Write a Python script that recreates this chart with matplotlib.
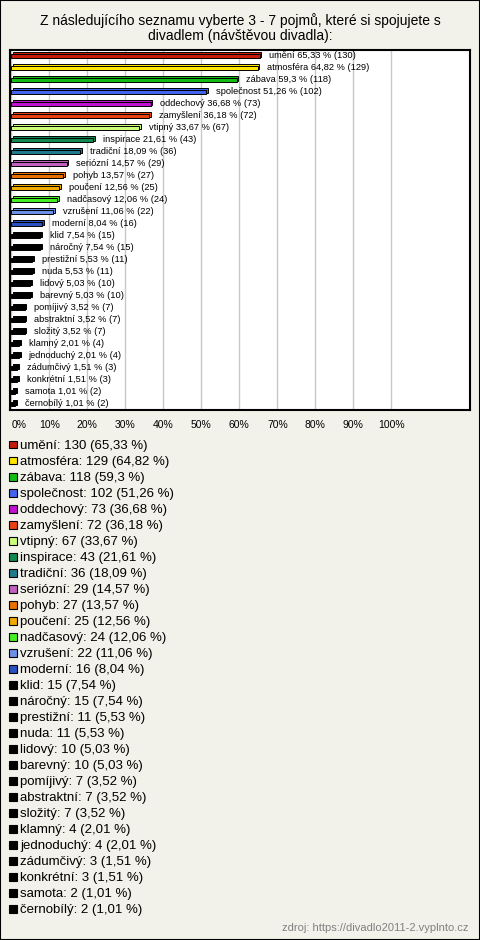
import matplotlib
matplotlib.use('Agg')
import matplotlib.pyplot as plt
from matplotlib.patches import Rectangle

plt.rcParams['font.family'] = ['Liberation Sans', 'DejaVu Sans']

TITLE = 'Z následujícího seznamu vyberte 3 - 7 pojmů, které si spojujete s\ndivadlem (návštěvou divadla):'
SOURCE = 'zdroj: https://divadlo2011-2.vyplnto.cz'

labels = ['umění', 'atmosféra', 'zábava', 'společnost', 'oddechový', 'zamyšlení',
          'vtipný', 'inspirace', 'tradiční', 'seriózní', 'pohyb', 'poučení',
          'nadčasový', 'vzrušení', 'moderní', 'klid', 'náročný', 'prestižní',
          'nuda', 'lidový', 'barevný', 'pomíjivý', 'abstraktní', 'složitý',
          'klamný', 'jednoduchý', 'zádumčivý', 'konkrétní', 'samota', 'černobílý']
counts = [130, 129, 118, 102, 73, 72, 67, 43, 36, 29, 27, 25, 24, 22, 16,
          15, 15, 11, 11, 10, 10, 7, 7, 7, 4, 4, 3, 3, 2, 2]
percents = [65.33, 64.82, 59.3, 51.26, 36.68, 36.18, 33.67, 21.61, 18.09, 14.57,
            13.57, 12.56, 12.06, 11.06, 8.04, 7.54, 7.54, 5.53, 5.53, 5.03,
            5.03, 3.52, 3.52, 3.52, 2.01, 2.01, 1.51, 1.51, 1.01, 1.01]
colors = ['#C41B0A', '#FFE600', '#12BC12', '#4063F0', '#C010D0', '#E84010',
          '#CCFF77', '#108850', '#1E7A8C', '#C060C0', '#E87000', '#EEAA00',
          '#44EE22', '#6A90E8', '#2850C0'] + ['#000000'] * 15
xticks = list(range(0, 101, 10))

BG = '#F3F2EA'
W, H = 480, 940


def fmt(p):
    return f'{p:g}'.replace('.', ',')


fig = plt.figure(figsize=(W / 100, H / 100), dpi=100, facecolor=BG)
fig.patches.append(Rectangle((0, 0), 1, 1, transform=fig.transFigure,
                             facecolor='none', edgecolor='black', lw=1.5))

fig.text(0.5, 1 - 28 / H, TITLE, ha='center', va='center', fontsize=10,
         linespacing=1.1)

# bar chart area (pixels: x 10-470, y 50-410)
ax = fig.add_axes([10 / W, 1 - 410 / H, 460 / W, 360 / H])
ax.set_facecolor('white')
y = list(range(len(labels)))

# back layer gives the slight 3D look
ax.barh([v - 0.12 for v in y], percents, left=0.45, height=0.38,
        color=colors, edgecolor='black', linewidth=0.7, zorder=2)
ax.barh(y, percents, height=0.38, color=colors, edgecolor='black',
        linewidth=0.7, zorder=3)

for yi, lab, c, p in zip(y, labels, counts, percents):
    ax.annotate(f'{lab} {fmt(p)} % ({c})', (p, yi), xytext=(7, 0),
                textcoords='offset points', va='center', ha='left',
                fontsize=6.7, zorder=4)

ax.set_xlim(-0.34, 120.7)
ax.set_ylim(len(labels) - 0.5, -0.5)
ax.set_yticks([])
ax.set_xticks(xticks)
ax.set_xticklabels([f'{t}%' for t in xticks], fontsize=7.5)
ax.get_xticklabels()[0].set_ha('left')
ax.tick_params(axis='x', length=0, pad=7)
ax.grid(axis='x', color='#C8C8C8', linewidth=1, zorder=0)
ax.set_axisbelow(True)
for s in ax.spines.values():
    s.set_linewidth(1.5)
    s.set_color('black')

# legend list below the chart
for i, (lab, c, p, col) in enumerate(zip(labels, counts, percents, colors)):
    yc = 1 - (445 + 16 * i) / H
    fig.patches.append(Rectangle((9 / W, yc - 3.5 / H), 7.5 / W, 7.5 / H,
                                 transform=fig.transFigure, facecolor=col,
                                 edgecolor='black', lw=0.8))
    fig.text(20 / W, yc, f'{lab}: {c} ({fmt(p)} %)', ha='left',
             va='center_baseline', fontsize=9.5)

fig.text(469 / W, 1 - 928 / H, SOURCE, ha='right', va='center', fontsize=8,
         color='#808080')

fig.savefig('out.png', dpi=100, facecolor=BG)
